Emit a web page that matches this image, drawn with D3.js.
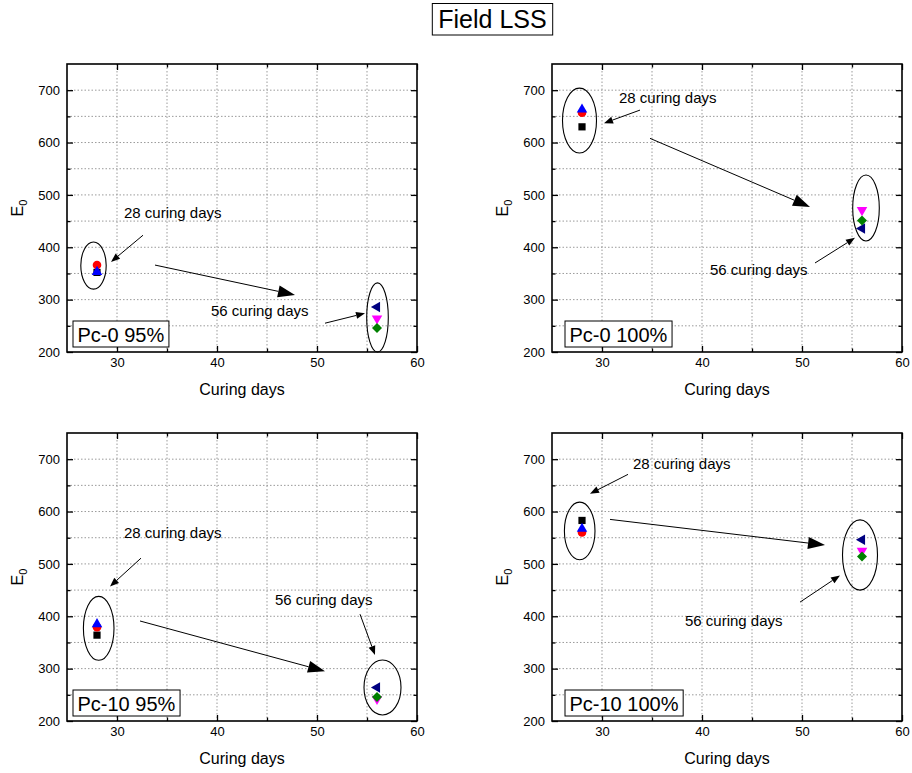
<!DOCTYPE html>
<html>
<head>
<meta charset="utf-8">
<script src="https://cdn.jsdelivr.net/npm/d3@7"></script>
<style>
  body { margin: 0; background: #fff; }
  svg { display: block; font-family: Arial, "Liberation Sans", sans-serif; }
</style>
</head>
<body>
<svg id="chart" width="912" height="773"></svg>
<script>
// ---- data ----
const chartTitle = "Field LSS";
const panelNames = ["Pc-0 95%", "Pc-0 100%", "Pc-10 95%", "Pc-10 100%"];
const curingDays = [28, 56];
// E0 per panel, one array per specimen symbol
const squareE0   = [352, 630, 364, 583];   // 28 days
const circleE0   = [366, 657, 379, 560];   // 28 days
const triUpE0    = [353, 663, 385, 567];   // 28 days
const triDownE0  = [264, 471, 242, 525];   // 56 days
const diamondE0  = [246, 451, 246, 514];   // 56 days
const triLeftE0  = [286, 436, 264, 546];   // 56 days
const xTicks = [30, 40, 50, 60];
const xMinorTicks = [35, 45, 55];
const yTicks = [200, 300, 400, 500, 600, 700];
const yMinorTicks = [250, 350, 450, 550, 650];
const noteText28 = "28 curing days";
const noteText56 = "56 curing days";

// ---- layout ----
const svg = d3.select("#chart");
const W = 350, H = 288;
const origins = [[67, 64], [552, 64], [67, 433], [552, 433]];
const labelBoxOffset = [6, 13, 6, 13];

const x = d3.scaleLinear().domain([25, 60]).range([0, W]);
const y = d3.scaleLinear().domain([200, 750]).range([H, 0]);

// series definitions: values, day, symbol, colour, rotation
const series = [
  { v: squareE0,  day: curingDays[0], type: d3.symbolSquare,   size: 52, color: "#000000", rot: 0 },
  { v: circleE0,  day: curingDays[0], type: d3.symbolCircle,   size: 58, color: "#ff0000", rot: 0 },
  { v: triUpE0,   day: curingDays[0], type: d3.symbolTriangle, size: 48, color: "#0000ff", rot: 0 },
  { v: triDownE0, day: curingDays[1], type: d3.symbolTriangle, size: 48, color: "#ff00ff", rot: 180 },
  { v: triLeftE0, day: curingDays[1], type: d3.symbolTriangle, size: 48, color: "#000080", rot: -90 },
  { v: diamondE0, day: curingDays[1], type: d3.symbolSquare,   size: 50, color: "#008000", rot: 45 }
];

// annotation geometry in data units: ellipses [cx, cy, rxDays, ryE0],
// note texts [x, y], arrows [x1, y1, x2, y2]
const notes = [
  { e28: [27.65, 365, 1.27, 45], e56: [56.05, 266, 1.08, 66],
    t28: [30.7, 456], a28: [32.6, 423, 29.4, 372],
    big: [33.8, 366, 47.8, 309],
    t56: [39.4, 269], a56: [50.8, 255, 54.8, 274] },
  { e28: [27.75, 642, 1.7, 62], e56: [56.4, 475, 1.33, 63],
    t28: [31.7, 675], a28: [33.8, 662, 30.2, 637],
    big: [34.8, 608, 50.8, 477],
    t56: [40.8, 347], a56: [51.3, 370, 55.3, 418] },
  { e28: [28.17, 377, 1.53, 61], e56: [56.55, 264, 1.85, 52.5],
    t28: [30.7, 549], a28: [32.4, 511, 29.3, 457],
    big: [32.3, 391, 50.8, 295],
    t56: [45.8, 421], a56: [54.3, 404, 55.8, 326] },
  { e28: [27.77, 563, 1.53, 55], e56: [55.8, 517, 1.75, 67],
    t28: [33.1, 681], a28: [32.6, 671, 28.8, 634],
    big: [30.8, 585, 52.3, 536],
    t56: [38.3, 382], a56: [49.8, 427, 53.8, 478] }
];

// ---- title ----
const titleG = svg.append("g");
const titleText = titleG.append("text")
  .attr("x", 492.5).attr("y", 28)
  .attr("text-anchor", "middle")
  .attr("font-size", 25)
  .attr("fill", "#000")
  .text(chartTitle);
const tb = titleText.node().getBBox();
titleG.insert("rect", "text")
  .attr("x", tb.x - 6).attr("y", 3.5)
  .attr("width", tb.width + 12).attr("height", 31.5)
  .attr("fill", "#fff").attr("stroke", "#000").attr("stroke-width", 1);

// arrow with filled head, drawn in pixel space
function drawArrow(g, x1, y1, x2, y2, len, wid) {
  const ang = Math.atan2(y2 - y1, x2 - x1);
  const bx = x2 - len * Math.cos(ang), by = y2 - len * Math.sin(ang);
  g.append("line")
    .attr("x1", x1).attr("y1", y1).attr("x2", bx).attr("y2", by)
    .attr("stroke", "#000").attr("stroke-width", 1);
  const px = -Math.sin(ang) * wid / 2, py = Math.cos(ang) * wid / 2;
  g.append("polygon")
    .attr("points", [[x2, y2], [bx + px, by + py], [bx - px, by - py]].map(p => p.join(",")).join(" "))
    .attr("fill", "#000");
}

panelNames.forEach((name, i) => {
  const [ox, oy] = origins[i];
  const g = svg.append("g").attr("transform", `translate(${ox},${oy})`);

  // grid
  const grid = g.append("g")
    .attr("stroke", "#9a9a9a").attr("stroke-width", 1).attr("stroke-dasharray", "1.5,2");
  xTicks.concat(xMinorTicks).filter(t => t < 60).forEach(t => {
    grid.append("line").attr("x1", x(t)).attr("x2", x(t)).attr("y1", 0).attr("y2", H);
  });
  yTicks.concat(yMinorTicks).filter(t => t > 200).forEach(t => {
    grid.append("line").attr("x1", 0).attr("x2", W).attr("y1", y(t)).attr("y2", y(t));
  });

  // axes (ticks pointing inward)
  const styleAxis = sel => {
    sel.select(".domain").remove();
    sel.selectAll(".tick line").attr("stroke", "#000").attr("stroke-width", 1.3);
    sel.selectAll(".tick text").attr("font-size", 13).attr("fill", "#000")
      .attr("font-family", "Arial, 'Liberation Sans', sans-serif");
  };
  g.append("g").attr("transform", `translate(0,${H})`)
    .call(d3.axisBottom(x).tickValues(xTicks).tickSizeInner(-6).tickSizeOuter(0).tickPadding(6))
    .call(styleAxis);
  g.append("g").attr("transform", `translate(0,${H})`)
    .call(d3.axisBottom(x).tickValues(xMinorTicks).tickSize(-3.5).tickFormat(""))
    .call(styleAxis);
  g.append("g")
    .call(d3.axisTop(x).tickValues(xTicks).tickSize(-6).tickFormat(""))
    .call(styleAxis);
  g.append("g")
    .call(d3.axisTop(x).tickValues(xMinorTicks).tickSize(-3.5).tickFormat(""))
    .call(styleAxis);
  g.append("g")
    .call(d3.axisLeft(y).tickValues(yTicks).tickSizeInner(-6).tickSizeOuter(0).tickPadding(7))
    .call(styleAxis);
  g.append("g")
    .call(d3.axisLeft(y).tickValues(yMinorTicks).tickSize(-3.5).tickFormat(""))
    .call(styleAxis);
  g.append("g").attr("transform", `translate(${W},0)`)
    .call(d3.axisRight(y).tickValues(yTicks).tickSize(-6).tickFormat(""))
    .call(styleAxis);
  g.append("g").attr("transform", `translate(${W},0)`)
    .call(d3.axisRight(y).tickValues(yMinorTicks).tickSize(-3.5).tickFormat(""))
    .call(styleAxis);

  // frame
  g.append("rect").attr("width", W).attr("height", H)
    .attr("fill", "none").attr("stroke", "#000").attr("stroke-width", 1.6);

  // axis titles
  g.append("text")
    .attr("x", W / 2).attr("y", H + 43)
    .attr("text-anchor", "middle").attr("font-size", 16).attr("fill", "#000")
    .text("Curing days");
  const yt = g.append("text")
    .attr("transform", `translate(-44,${H / 2}) rotate(-90)`)
    .attr("text-anchor", "middle").attr("font-size", 16).attr("fill", "#000");
  yt.append("tspan").text("E");
  yt.append("tspan").attr("font-size", 11).attr("dy", 4).text("0");

  // markers
  series.forEach(s => {
    g.append("path")
      .attr("d", d3.symbol().type(s.type).size(s.size)())
      .attr("transform", `translate(${x(s.day)},${y(s.v[i])}) rotate(${s.rot})`)
      .attr("fill", s.color);
  });

  // annotations
  const n = notes[i];
  const ann = g.append("g");
  [n.e28, n.e56].forEach(e => {
    ann.append("ellipse")
      .attr("cx", x(e[0])).attr("cy", y(e[1]))
      .attr("rx", x(25 + e[2]) - x(25)).attr("ry", y(200) - y(200 + e[3]))
      .attr("fill", "none").attr("stroke", "#000").attr("stroke-width", 1.1);
  });
  [[n.t28, noteText28], [n.t56, noteText56]].forEach(([p, t]) => {
    ann.append("text").attr("x", x(p[0])).attr("y", y(p[1]))
      .attr("font-size", 15).attr("fill", "#000").text(t);
  });
  drawArrow(ann, x(n.a28[0]), y(n.a28[1]), x(n.a28[2]), y(n.a28[3]), 9, 7);
  drawArrow(ann, x(n.a56[0]), y(n.a56[1]), x(n.a56[2]), y(n.a56[3]), 9, 7);
  drawArrow(ann, x(n.big[0]), y(n.big[1]), x(n.big[2]), y(n.big[3]), 17, 12);

  // panel label box
  const lb = g.append("g");
  const lt = lb.append("text")
    .attr("x", labelBoxOffset[i] + 4.5).attr("y", H - 10)
    .attr("font-size", 20).attr("fill", "#000").text(name);
  const bb = lt.node().getBBox();
  lb.insert("rect", "text")
    .attr("x", labelBoxOffset[i]).attr("y", H - 31)
    .attr("width", bb.width + 9).attr("height", 26)
    .attr("fill", "#fff").attr("stroke", "#000").attr("stroke-width", 1);
});
</script>
</body>
</html>
